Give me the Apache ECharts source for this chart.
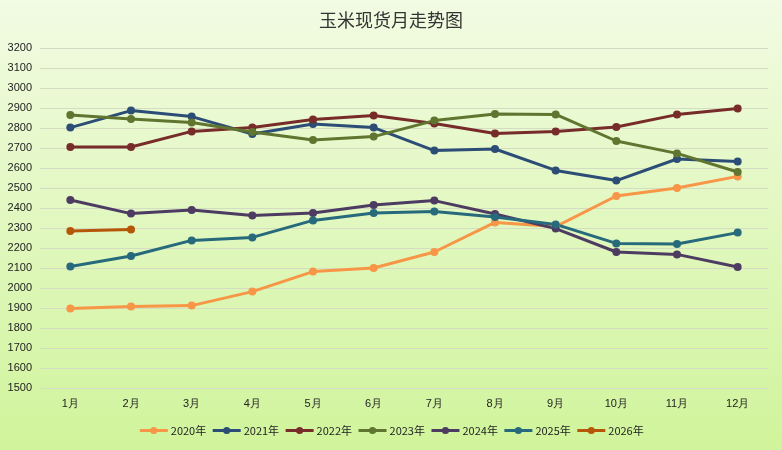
<!DOCTYPE html>
<html>
<head>
<meta charset="utf-8">
<script src="https://cdn.jsdelivr.net/npm/echarts@6/dist/echarts.min.js"></script>
<style>
html,body{margin:0;padding:0;}
#main{width:782px;height:450px;}
</style>
</head>
<body>
<div id="main"></div>
<script>
//月份
var months = ['1月','2月','3月','4月','5月','6月','7月','8月','9月','10月','11月','12月'];
var years = ['2020年','2021年','2022年','2023年','2024年','2025年','2026年'];

var d2020 = [1897,1907,1912,1982,2082,2100,2180,2328,2307,2460,2500,2558];
var d2021 = [2802,2887,2857,2770,2820,2802,2687,2695,2588,2537,2645,2632];
var d2022 = [2705,2705,2783,2803,2843,2862,2823,2773,2783,2805,2867,2898];
var d2023 = [2865,2845,2827,2780,2740,2757,2837,2870,2868,2735,2673,2580];
var d2024 = [2440,2372,2390,2362,2375,2415,2437,2370,2297,2180,2168,2105];
var d2025 = [2107,2160,2238,2253,2338,2375,2382,2355,2318,2223,2220,2277];
var d2026 = [2285,2293];

var colors = ['#F79646','#2C4D75','#772C2A','#5F7530','#4D3B62','#276A7C','#B65708'];
var allData = [d2020,d2021,d2022,d2023,d2024,d2025,d2026];

var dom = document.getElementById("main");
var myChart = echarts.init(dom);

var series = [];
for(var i=0;i<years.length;i++){
    series.push({
        name: years[i],
        type: 'line',
        data: allData[i],
        symbol: 'circle',
        symbolSize: 8,
        lineStyle: { width: 3, color: colors[i] },
        itemStyle: { color: colors[i] }
    });
}

var option = {
    backgroundColor: {
        type: 'linear', x: 0, y: 0, x2: 0, y2: 1,
        colorStops: [
            { offset: 0, color: '#F2FBE3' },
            { offset: 1, color: '#D0F49B' }
        ]
    },
    color: colors,
    title: {
        text: '玉米现货月走势图',
        left: 'center',
        top: 6,
        textStyle: {
            fontSize: 18,
            fontWeight: 'normal',
            color: '#333',
            fontFamily: 'Noto Sans CJK SC'
        }
    },
    legend: {
        data: years,
        bottom: 9,
        itemWidth: 28,
        itemHeight: 9,
        itemGap: 5,
        lineStyle: { width: 3 },
        textStyle: { fontSize: 11, color: '#222', fontFamily: 'Noto Sans CJK SC', padding: [0,0,0,-2] }
    },
    grid: {
        left: 40,
        right: 14,
        top: 48,
        bottom: 62
    },
    xAxis: {
        type: 'category',
        data: months,
        boundaryGap: true,
        axisLine: { show: false },
        axisTick: { show: false },
        axisLabel: { fontSize: 11, color: '#222', margin: 10 }
    },
    yAxis: {
        type: 'value',
        min: 1500,
        max: 3200,
        interval: 100,
        axisLine: { show: false },
        axisTick: { show: false },
        axisLabel: {
            fontSize: 11, color: '#222', margin: 8,
            formatter: function (v) { return String(v); }
        },
        splitLine: { lineStyle: { color: '#D4DCC4', width: 1 } }
    },
    series: series
};

if (option && typeof option === "object") {
    myChart.setOption(option, true);
}
</script>
</body>
</html>
